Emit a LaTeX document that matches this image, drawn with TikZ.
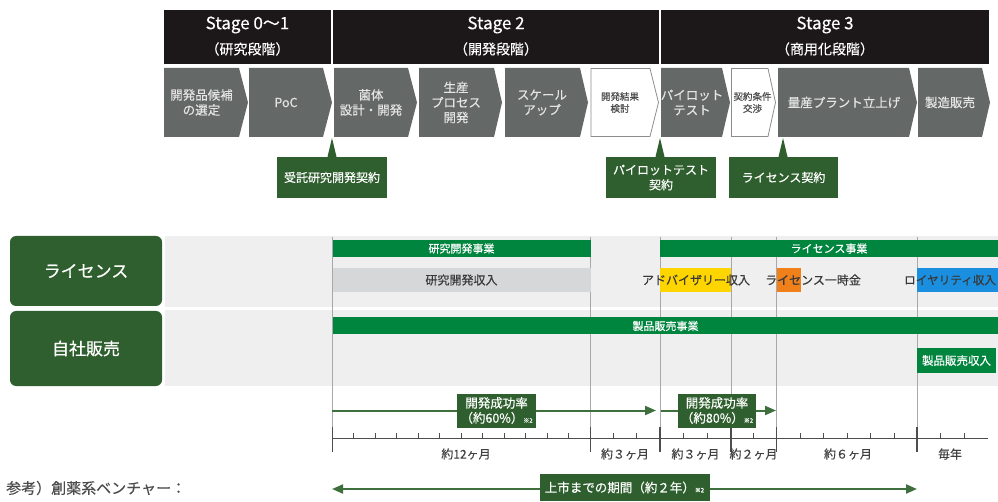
\documentclass[tikz,border=0pt]{standalone}
\usepackage{fontspec}
\setmainfont{Noto Sans CJK JP}[FakeBold=0.35]
\usetikzlibrary{arrows.meta}

\definecolor{headblack}{HTML}{1C1718}
\definecolor{chevgray}{HTML}{646866}
\definecolor{darkgreen}{HTML}{2F5F2E}
\definecolor{bargreen}{HTML}{00853F}
\definecolor{bandgray}{HTML}{EFEFEF}
\definecolor{incgray}{HTML}{D5D7D9}
\definecolor{advyellow}{HTML}{FFD500}
\definecolor{licorange}{HTML}{F0801A}
\definecolor{royblue}{HTML}{1A8FE0}
\definecolor{linegray}{HTML}{A8A8A8}
\definecolor{axisgray}{HTML}{4D4D4D}
\definecolor{arrowgreen}{HTML}{3F6F3C}

\begin{document}
\begin{tikzpicture}[x=1pt, y=-1pt,
    stagebox/.style={fill=headblack, minimum height=54pt, inner sep=0pt},
    stagetext/.style={text=white, inner sep=0pt, font=\fontsize{17}{20}\selectfont},
    stagesub/.style={text=white, inner sep=0pt, font=\fontsize{14}{16}\selectfont},
    chevtext/.style={text=white!90!black, align=center, inner sep=0pt, font=\fontsize{12.5}{15}\selectfont},
    chevwhite/.style={text=black!70, align=center, inner sep=0pt, font=\fontsize{9.5}{12}\selectfont},
    contract/.style={fill=darkgreen, text=white, align=center, inner sep=0pt, minimum height=41pt, font=\fontsize{12}{15}\selectfont},
    rowlabel/.style={fill=darkgreen, text=white, rounded corners=6pt, minimum width=152pt, font=\fontsize{17}{20}\selectfont},
    busbar/.style={fill=bargreen, text=white, inner sep=0pt, minimum height=17pt, font=\fontsize{11}{13}\selectfont},
    income/.style={text=black!78, inner sep=0pt, font=\fontsize{12}{14}\selectfont},
    spanlabel/.style={text=black!75, inner sep=0pt, font=\fontsize{12}{14}\selectfont},
    ratebox/.style={fill=darkgreen, text=white, align=center, inner sep=0pt, font=\fontsize{12.5}{15}\selectfont},
    flow/.style={arrowgreen, line width=2pt, -{Triangle[length=11pt,width=9pt]}},
  ]
  \useasboundingbox (0,0) rectangle (998,502);

  % Stage headers
  \node[stagebox, minimum width=167pt] (hd1) at (247.5,37) {};%
  \node[stagebox, minimum width=326pt] (hd2) at (496,37) {};%
  \node[stagebox, minimum width=328pt] (hd3) at (825,37) {};%
  \node[stagetext] (hd1a) at (247.5,25) {Stage 0～1};%
  \node[stagesub] (hd1b) at (247.5,49) {（研究段階）};%
  \node[stagetext] (hd2a) at (496,25) {Stage 2};%
  \node[stagesub] (hd2b) at (496,49) {（開発段階）};%
  \node[stagetext] (hd3a) at (825,25) {Stage 3};%
  \node[stagesub] (hd3b) at (825,49) {（商用化段階）};%

  % Drawing chevrons
  \fill[chevgray] (164,68) -- (239,68) -- (248,102.5) -- (239,137) -- (164,137) -- cycle;%
  \node[chevtext] (ch1) at (201.5,102.5) {開発品候補\\の選定};%
  \fill[chevgray] (249,68) -- (323,68) -- (332,102.5) -- (323,137) -- (249,137) -- cycle;%
  \node[chevtext] (ch2) at (286,102.5) {PoC};%
  \fill[chevgray] (334,68) -- (408,68) -- (417,102.5) -- (408,137) -- (334,137) -- cycle;%
  \node[chevtext] (ch3) at (371,102.5) {菌体\\設計・開発};%
  \fill[chevgray] (419,68) -- (494,68) -- (502,102.5) -- (494,137) -- (419,137) -- cycle;%
  \node[chevtext] (ch4) at (456,102.5) {生産\\プロセス\\開発};%
  \fill[chevgray] (505,68) -- (580,68) -- (588,102.5) -- (580,137) -- (505,137) -- cycle;%
  \node[chevtext] (ch5) at (542,102.5) {スケール\\アップ};%
  \draw[fill=white, draw=black!45, line width=0.8pt] (591,68.5) -- (650,68.5) -- (658.5,102.5) -- (650,136.5) -- (591,136.5) -- cycle;%
  \node[chevwhite] (ch6) at (620,102.5) {開発結果\\検討};%
  \fill[chevgray] (661,68) -- (722,68) -- (730,102.5) -- (722,137) -- (661,137) -- cycle;%
  \node[chevtext] (ch7) at (692,102.5) {パイロット\\テスト};%
  \draw[fill=white, draw=black!45, line width=0.8pt] (731.5,68.5) -- (768,68.5) -- (775.5,102.5) -- (768,136.5) -- (731.5,136.5) -- cycle;%
  \node[chevwhite] (ch8) at (752.5,102.5) {契約条件\\交渉};%
  \fill[chevgray] (778,68) -- (909,68) -- (917,102.5) -- (909,137) -- (778,137) -- cycle;%
  \node[chevtext] (ch9) at (844,102.5) {量産プラント立上げ};%
  \fill[chevgray] (918,68) -- (982,68) -- (990,102.5) -- (982,137) -- (918,137) -- cycle;%
  \node[chevtext] (ch10) at (950,102.5) {製造販売};%

  % Contract boxes and their pointers
  \coordinate (pt1) at (332,138);%
  \coordinate (pt2) at (660,138);%
  \coordinate (pt3) at (783,138);%
  \node[contract, minimum width=110pt] (k1) at (332,177.5) {受託研究開発契約};%
  \node[contract, minimum width=110pt] (k2) at (661,177.5) {パイロットテスト\\契約};%
  \node[contract, minimum width=109pt] (k3) at (783.5,177.5) {ライセンス契約};%
  \fill[darkgreen] ([xshift=-4.5pt]k1.north) -- (pt1) -- ([xshift=4.5pt]k1.north) -- cycle;%
  \fill[darkgreen] ([xshift=-5.5pt]k2.north) -- (pt2) -- ([xshift=3.5pt]k2.north) -- cycle;%
  \fill[darkgreen] ([xshift=-5pt]k3.north) -- (pt3) -- ([xshift=4pt]k3.north) -- cycle;%

  % Row labels and bands
  \node[rowlabel, minimum height=70pt] (lic) at (86,271) {ライセンス};%
  \node[rowlabel, minimum height=75pt] (own) at (86,348.5) {自社販売};%
  \fill[bandgray] (165,236) rectangle (998,307);%
  \fill[bandgray] (165,310) rectangle (998,386);%

  % Period separators
  \draw[linegray, line width=1pt] (332.5,237) -- (332.5,452) (590.5,237) -- (590.5,452)
    (660,237) -- (660,452) (731,237) -- (731,452) (776.5,237) -- (776.5,452) (917,237) -- (917,452);%

  % Business bars
  \node[busbar, minimum width=258pt] (rdbiz) at (461.5,248.5) {研究開発事業};%
  \node[busbar, minimum width=338pt] (licbiz) at (829,248.5) {ライセンス事業};%
  \node[busbar, minimum width=665pt] (prodbiz) at (665.5,326) {製品販売事業};%

  % Income bars
  \node[fill=incgray, minimum width=258pt, minimum height=24pt, inner sep=0pt] (inc1) at (461.5,280) {};%
  \node[income] (inc1t) at (461.5,280) {研究開発収入};%
  \fill[advyellow] (660,268) rectangle (731,292);%
  \fill[licorange] (777,268) rectangle (801,292);%
  \fill[royblue] (917,268) rectangle (998,292);%
  \node[income] (inc2) at (696,280) {アドバイザリー収入};%
  \node[income] (inc3) at (813,280) {ライセンス一時金};%
  \node[income, anchor=west, font=\fontsize{11.6}{14}\selectfont] (inc4) at (904,280) {ロイヤリティ収入};%
  \node[busbar, minimum width=79pt, minimum height=25pt, font=\fontsize{11.5}{13}\selectfont] (inc5) at (956.5,360.5) {製品販売収入};%

  % Time axis
  \draw[axisgray, line width=1pt] (332,438) -- (988,438);%
  \draw[axisgray, line width=1.2pt] (332.5,427) -- (332.5,452) (590.5,427) -- (590.5,452) (660,427) -- (660,452)
    (731,427) -- (731,452) (776.5,427) -- (776.5,452) (917,427) -- (917,452);%
  \draw[axisgray, line width=0.7pt]
    (353.5,433) -- (353.5,438) (375,433) -- (375,438) (396.5,433) -- (396.5,438) (418,433) -- (418,438)
    (439.5,433) -- (439.5,438) (461,433) -- (461,438) (482.5,433) -- (482.5,438) (504,433) -- (504,438)
    (525.5,433) -- (525.5,438) (547,433) -- (547,438) (568.5,433) -- (568.5,438)
    (613.5,433) -- (613.5,438) (636.5,433) -- (636.5,438)
    (683.5,433) -- (683.5,438) (707,433) -- (707,438) (753.5,433) -- (753.5,438)
    (800,433) -- (800,438) (823.5,433) -- (823.5,438) (847,433) -- (847,438) (870.5,433) -- (870.5,438) (894,433) -- (894,438)
    (940.5,433) -- (940.5,438) (964,433) -- (964,438);%
  \node[spanlabel] (m1) at (466,454) {約12ヶ月};%
  \node[spanlabel] (m2) at (625,454) {約３ヶ月};%
  \node[spanlabel] (m3) at (695.5,454) {約３ヶ月};%
  \node[spanlabel] (m4) at (753.5,454) {約２ヶ月};%
  \node[spanlabel] (m5) at (848,454) {約６ヶ月};%
  \node[spanlabel] (m6) at (950,454) {毎年};%

  % Success rate arrows
  \coordinate (f1s) at (332,410.5);%
  \coordinate (f1e) at (656,410.5);%
  \coordinate (f2s) at (661,410.5);%
  \coordinate (f2e) at (776,410.5);%
  \draw[flow] (f1s) -- (f1e) node[ratebox, pos=0.508, minimum width=79pt, minimum height=34pt] (r1) {開発成功率\\（約60\%）{\fontsize{6}{6}\selectfont ※2}};%
  \draw[flow] (f2s) -- (f2e) node[ratebox, pos=0.487, minimum width=78pt, minimum height=34pt] (r2) {開発成功率\\（約80\%）{\fontsize{6}{6}\selectfont ※2}};%

  % Period to launch
  \node[text=black!70, anchor=west, inner sep=0pt, font=\fontsize{15}{17}\selectfont] (ref) at (6,488) {参考）創薬系ベンチャー：};%
  \coordinate (g0) at (332,489);%
  \coordinate (g1) at (917,489);%
  \draw[arrowgreen, line width=2pt, {Triangle[length=11pt,width=9pt]}-{Triangle[length=11pt,width=9pt]}] (g0) -- (g1)
    node[ratebox, midway, minimum width=170pt, minimum height=27pt, yshift=1.5pt] (launch) {上市までの期間（約２年）{\fontsize{6}{6}\selectfont ※2}};%
\end{tikzpicture}
\end{document}
